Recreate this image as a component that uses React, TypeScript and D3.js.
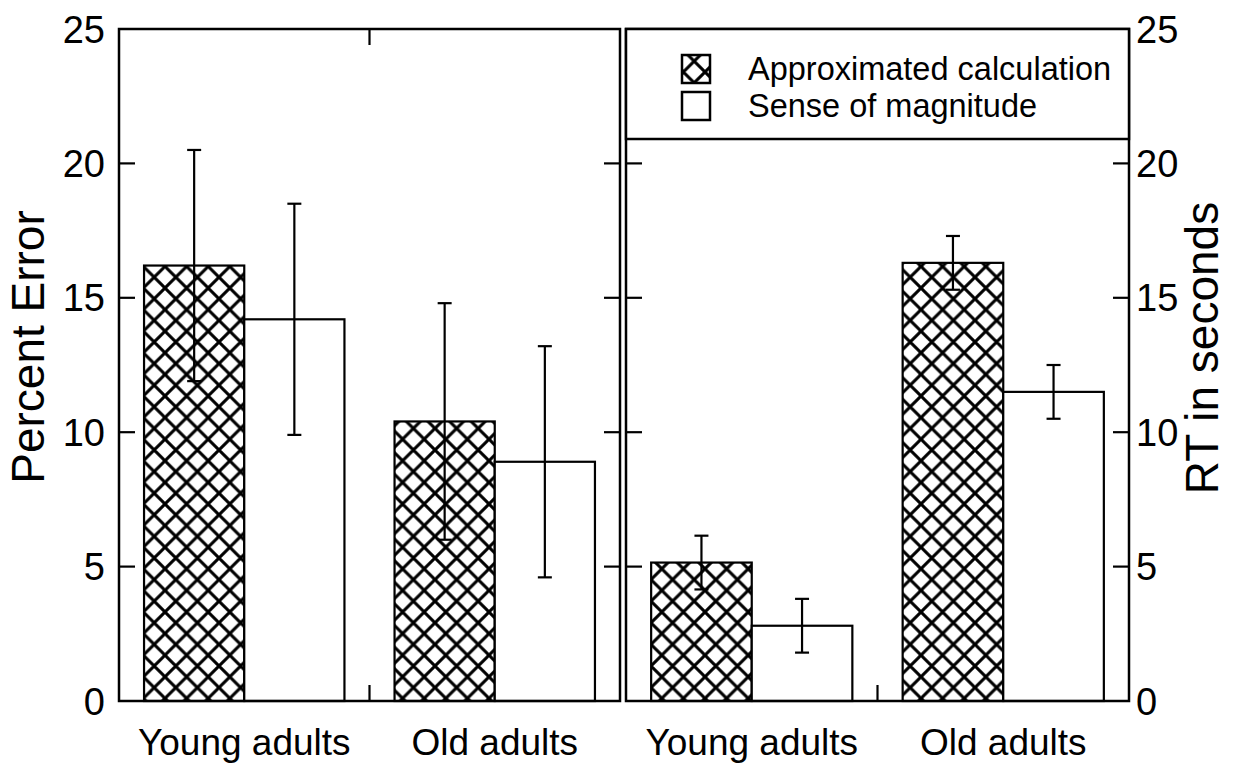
import React from 'react'
import * as d3 from 'd3'

// values
const groups = ['Young adults', 'Old adults']
const series = ['Approximated calculation', 'Sense of magnitude']
const yTicks = [0, 5, 10, 15, 20, 25]

const pctApprox = [16.2, 10.4]
const pctApproxErr = [4.3, 4.4]
const pctMagn = [14.2, 8.9]
const pctMagnErr = [4.3, 4.3]

const rtApprox = [5.15, 16.3]
const rtApproxErr = [1.0, 1.0]
const rtMagn = [2.8, 11.5]
const rtMagnErr = [1.0, 1.0]

const W = 1238
const H = 763
const top = 29
const bottom = 701
const font = '"Liberation Sans", Arial, Helvetica, sans-serif'

const y = d3.scaleLinear().domain([0, 25]).range([bottom, top])

type PanelProps = {
  x0: number
  x1: number
  values: number[][]
  errors: number[][]
  labelsLeft: boolean
  showTopTick: boolean
}

const Panel = ({ x0, x1, values, errors, labelsLeft, showTopTick }: PanelProps) => {
  const x = d3.scaleBand().domain(groups).range([x0, x1]).paddingInner(0.2).paddingOuter(0.1)
  const xs = d3.scaleBand().domain(series).range([0, x.bandwidth()])
  const tickLen = 16
  const cap = 7
  return (
    <g>
      {groups.map((g, gi) =>
        series.map((s, si) => {
          const v = values[si][gi]
          const e = errors[si][gi]
          const bx = (x(g) as number) + (xs(s) as number)
          const cx = bx + xs.bandwidth() / 2
          return (
            <g key={g + s}>
              <rect
                x={bx}
                y={y(v)}
                width={xs.bandwidth()}
                height={y(0) - y(v)}
                fill={si === 0 ? 'url(#xhatch)' : '#fff'}
                stroke="#000"
                strokeWidth={2.2}
              />
              <line x1={cx} x2={cx} y1={y(v - e)} y2={y(v + e)} stroke="#000" strokeWidth={2.2} />
              <line x1={cx - cap} x2={cx + cap} y1={y(v + e)} y2={y(v + e)} stroke="#000" strokeWidth={2.2} />
              <line x1={cx - cap} x2={cx + cap} y1={y(v - e)} y2={y(v - e)} stroke="#000" strokeWidth={2.2} />
            </g>
          )
        })
      )}
      {/* frame */}
      <rect x={x0} y={top} width={x1 - x0} height={bottom - top} fill="none" stroke="#000" strokeWidth={2.5} />
      {/* inward ticks on both sides */}
      {yTicks.slice(1, -1).map(t => (
        <g key={t}>
          <line x1={x0} x2={x0 + tickLen} y1={y(t)} y2={y(t)} stroke="#000" strokeWidth={2.2} />
          <line x1={x1 - tickLen} x2={x1} y1={y(t)} y2={y(t)} stroke="#000" strokeWidth={2.2} />
        </g>
      ))}
      {/* tick between the groups */}
      {(() => {
        const mid = ((x(groups[0]) as number) + x.bandwidth() + (x(groups[1]) as number)) / 2
        return (
          <g>
            <line x1={mid} x2={mid} y1={bottom} y2={bottom - tickLen} stroke="#000" strokeWidth={2.2} />
            {showTopTick && <line x1={mid} x2={mid} y1={top} y2={top + tickLen} stroke="#000" strokeWidth={2.2} />}
          </g>
        )
      })()}
      {yTicks.map(t => (
        <text
          key={'l' + t}
          x={labelsLeft ? x0 - 14 : x1 + 7}
          y={y(t)}
          dy="0.36em"
          textAnchor={labelsLeft ? 'end' : 'start'}
          fontSize={38}
          fontFamily={font}
        >
          {t}
        </text>
      ))}
      {groups.map(g => (
        <text
          key={'c' + g}
          x={(x(g) as number) + x.bandwidth() / 2}
          y={755}
          textAnchor="middle"
          fontSize={37}
          fontFamily={font}
        >
          {g}
        </text>
      ))}
    </g>
  )
}

export default function App() {
  const lx0 = 119
  const lx1 = 620
  const rx0 = 626
  const rx1 = 1129
  const hatch = 21.6
  return (
    <svg width={W} height={H} style={{ position: 'absolute', left: 0, top: 0, background: '#fff' }}>
      <defs>
        <pattern id="xhatch" patternUnits="userSpaceOnUse" width={hatch} height={hatch} x={165 % hatch} y={612 % hatch}>
          <rect width={hatch} height={hatch} fill="#fff" />
          <path
            d={`M0,0L${hatch},${hatch}M${hatch},0L0,${hatch}`}
            stroke="#000"
            strokeWidth={3}
          />
        </pattern>
      </defs>
      <rect width={W} height={H} fill="#fff" />
      <Panel
        x0={lx0}
        x1={lx1}
        values={[pctApprox, pctMagn]}
        errors={[pctApproxErr, pctMagnErr]}
        labelsLeft={true}
        showTopTick={true}
      />
      <Panel
        x0={rx0}
        x1={rx1}
        values={[rtApprox, rtMagn]}
        errors={[rtApproxErr, rtMagnErr]}
        labelsLeft={false}
        showTopTick={false}
      />
      {/* legend */}
      <rect x={rx0} y={top} width={rx1 - rx0} height={110} fill="#fff" stroke="#000" strokeWidth={2.5} />
      {series.map((s, i) => (
        <g key={s} transform={`translate(0,${i * 37})`}>
          <rect x={682} y={55} width={28} height={28} fill={i === 0 ? 'url(#xhatch)' : '#fff'} stroke="#000" strokeWidth={2.5} />
          <text x={748} y={80} fontSize={32.5} fontFamily={font}>
            {s}
          </text>
        </g>
      ))}
      <text transform="translate(44,347) rotate(-90)" textAnchor="middle" fontSize={46} fontFamily={font}>
        Percent Error
      </text>
      <text transform="translate(1218,348) rotate(-90)" textAnchor="middle" fontSize={46} fontFamily={font}>
        RT in seconds
      </text>
    </svg>
  )
}
